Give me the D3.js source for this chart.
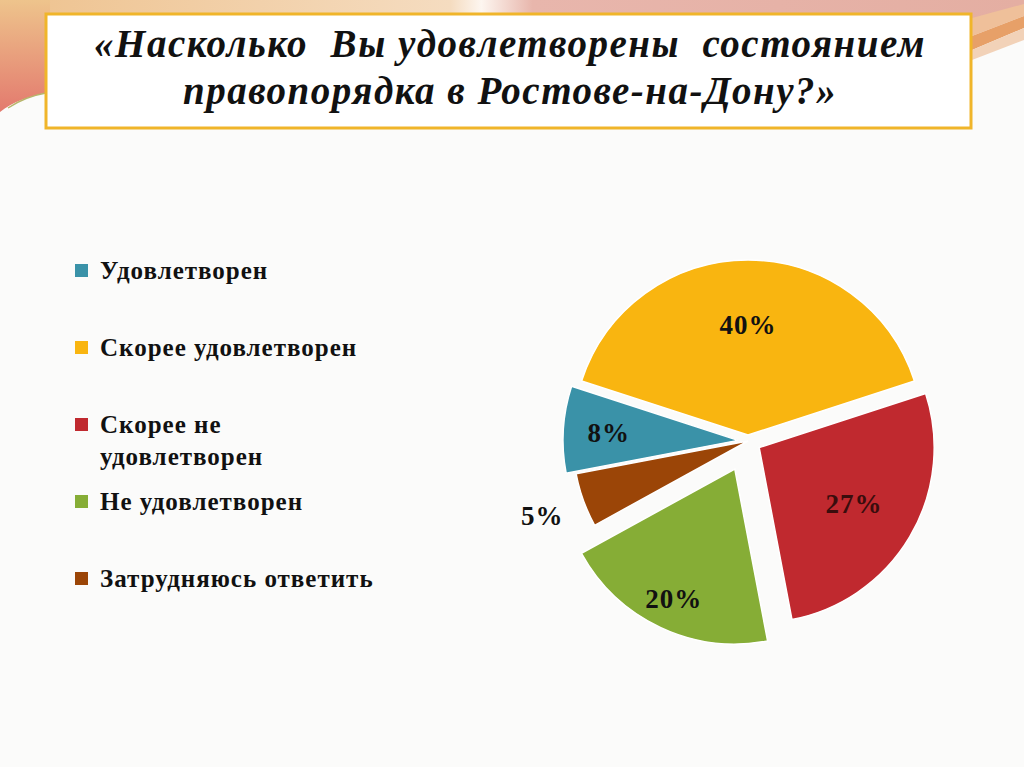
<!DOCTYPE html>
<html>
<head>
<meta charset="utf-8">
<script src="https://d3js.org/d3.v7.min.js"></script>
<style>
  body { margin:0; background:#fbfbfa; }
  svg { display:block; }
</style>
</head>
<body>
<div id="chart"></div>
<script>
// data
var categories = ["Удовлетворен", "Скорее удовлетворен", "Скорее не удовлетворен", "Не удовлетворен", "Затрудняюсь ответить"];
var legendLines = [["Удовлетворен"], ["Скорее удовлетворен"], ["Скорее не", "удовлетворен"], ["Не удовлетворен"], ["Затрудняюсь ответить"]];
var values = [8, 40, 27, 20, 5];
var labels = ["8%", "40%", "27%", "20%", "5%"];
var colors = ["#3a92a8", "#f9b510", "#c0292f", "#86ad36", "#9b4507"];
var titleLines = ["«Насколько  Вы удовлетворены  состоянием", "правопорядка в Ростове-на-Дону?»"];

// layout
var W = 1024, H = 767;
var cx = 748, cy = 441, R = 175;
var explode = [10, 6, 13, 31, 0];
var labelR = [0.74, 0.63, 0.63, 0.82, 1.25];
var startDeg = 259.2;

var svg = d3.select("#chart").append("svg")
  .attr("width", W).attr("height", H);

var defs = svg.append("defs");
var g1 = defs.append("linearGradient").attr("id", "gl").attr("x1", 0).attr("y1", 0).attr("x2", 0).attr("y2", 1);
g1.append("stop").attr("offset", "0%").attr("stop-color", "#eec48c");
g1.append("stop").attr("offset", "100%").attr("stop-color", "#e37a6e");
var g2 = defs.append("linearGradient").attr("id", "gt").attr("x1", 0).attr("y1", 0).attr("x2", 1).attr("y2", 0);
g2.append("stop").attr("offset", "0%").attr("stop-color", "#eec28e");
g2.append("stop").attr("offset", "44%").attr("stop-color", "#f5dcc0");
g2.append("stop").attr("offset", "47%").attr("stop-color", "#fdf6f0");
g2.append("stop").attr("offset", "52%").attr("stop-color", "#e8b6ac");
g2.append("stop").attr("offset", "100%").attr("stop-color", "#e4aea2");

svg.append("rect").attr("width", W).attr("height", H).attr("fill", "#fbfbfa");

// decoration
svg.append("path").attr("d", "M0,0 H1024 V6 L975,20 H0 Z").attr("fill", "url(#gt)");
svg.append("path").attr("d", "M0,0 H50 V92 C30,96 12,102 0,112 Z").attr("fill", "url(#gl)");
svg.append("path").attr("d", "M8,108 C20,100 34,95 46,93").attr("fill", "none").attr("stroke", "#b7b56a").attr("stroke-width", 1.5);
svg.append("path").attr("d", "M972,18 L1024,4 V16 L972,36 Z").attr("fill", "#efc09a");
svg.append("path").attr("d", "M972,36 L1024,16 V28 L972,50 Z").attr("fill", "#e7a068");
svg.append("path").attr("d", "M972,50 L1024,28 V40 L972,60 Z").attr("fill", "#f2d2b8");

// title box
svg.append("rect").attr("x", 46).attr("y", 14).attr("width", 925).attr("height", 114)
  .attr("fill", "#ffffff").attr("stroke", "#f0b52a").attr("stroke-width", 3);
svg.selectAll(".title").data(titleLines).enter().append("text")
  .attr("class", "title")
  .attr("x", 510).attr("y", function(d, i) { return 57 + i * 47; })
  .attr("text-anchor", "middle")
  .attr("font-family", "Liberation Serif, serif")
  .attr("font-style", "italic").attr("font-weight", "bold")
  .attr("font-size", 39)
  .attr("letter-spacing", 1.5)
  .attr("fill", "#111")
  .attr("xml:space", "preserve")
  .text(function(d) { return d; });

// legend
var leg = svg.selectAll(".leg").data(categories).enter().append("g")
  .attr("class", "leg")
  .attr("transform", function(d, i) { return "translate(75," + (270 + i * 77) + ")"; });
leg.append("rect").attr("x", 0).attr("y", -6).attr("width", 13).attr("height", 13)
  .attr("fill", function(d, i) { return colors[i]; });
leg.each(function(d, i) {
  var t = d3.select(this).append("text")
    .attr("x", 25).attr("y", 0)
    .attr("font-family", "Liberation Serif, serif")
    .attr("font-weight", "bold").attr("font-size", 25)
    .attr("letter-spacing", 1)
    .attr("fill", "#111");
  legendLines[i].forEach(function(line, j) {
    t.append("tspan").attr("x", 25).attr("dy", j === 0 ? "0.35em" : 32).text(line);
  });
});

// pie
var a0 = startDeg * Math.PI / 180;
var pie = d3.pie().sort(null).value(function(d) { return d; })
  .startAngle(a0).endAngle(a0 + 2 * Math.PI);
var arc = d3.arc().innerRadius(0).outerRadius(R);
var arcs = pie(values);

var pg = svg.append("g").attr("transform", "translate(" + cx + "," + cy + ")");
var slice = pg.selectAll(".slice").data(arcs).enter().append("g")
  .attr("class", "slice")
  .attr("transform", function(d, i) {
    var m = (d.startAngle + d.endAngle) / 2;
    return "translate(" + (Math.sin(m) * explode[i]) + "," + (-Math.cos(m) * explode[i]) + ")";
  });
slice.append("path").attr("d", arc)
  .attr("fill", function(d, i) { return colors[i]; })
  .attr("stroke", "#ffffff").attr("stroke-width", 1.5);
slice.append("text")
  .attr("transform", function(d, i) {
    var m = (d.startAngle + d.endAngle) / 2, r = R * labelR[i];
    return "translate(" + (Math.sin(m) * r) + "," + (-Math.cos(m) * r) + ")";
  })
  .attr("text-anchor", "middle").attr("dy", "0.35em")
  .attr("font-family", "Liberation Serif, serif")
  .attr("font-weight", "bold").attr("font-size", 27)
  .attr("letter-spacing", 1)
  .attr("fill", function(d, i) { return i === 2 ? "#3a0d0d" : "#111"; })
  .text(function(d, i) { return labels[i]; });
</script>
</body>
</html>
